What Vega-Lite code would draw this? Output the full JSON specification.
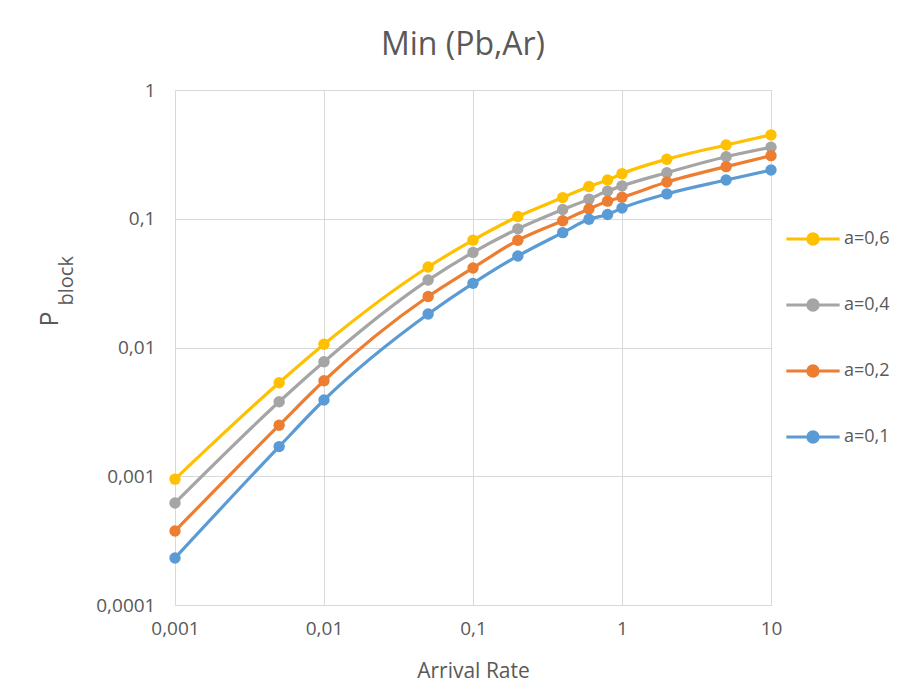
{
  "$schema": "https://vega.github.io/schema/vega-lite/v6.json",
  "width": 596,
  "height": 515,
  "autosize": {"type": "none"},
  "padding": {"left": 175, "top": 90, "right": 146, "bottom": 94},
  "background": "white",
  "title": {"text": "Min (Pb,Ar)", "fontSize": 32, "font": "Open Sans", "fontWeight": "normal", "color": "#595959", "anchor": "middle", "dx": -10, "offset": 19},
  "config": {
    "view": {"stroke": "#d9d9d9"},
    "axis": {"gridColor": "#d9d9d9", "gridWidth": 1, "domain": false, "ticks": false, "labelFont": "Open Sans", "labelFontSize": 19, "labelColor": "#595959", "titleFont": "Open Sans", "titleColor": "#595959", "titleFontWeight": "normal"}
  },
  "data": {"values": [
    {"rate": 0.001, "p": 0.00095, "series": "a=0,6"},
    {"rate": 0.005, "p": 0.00533, "series": "a=0,6"},
    {"rate": 0.01, "p": 0.0106, "series": "a=0,6"},
    {"rate": 0.05, "p": 0.0422, "series": "a=0,6"},
    {"rate": 0.1, "p": 0.0682, "series": "a=0,6"},
    {"rate": 0.2, "p": 0.104, "series": "a=0,6"},
    {"rate": 0.4, "p": 0.146, "series": "a=0,6"},
    {"rate": 0.6, "p": 0.178, "series": "a=0,6"},
    {"rate": 0.8, "p": 0.2, "series": "a=0,6"},
    {"rate": 1, "p": 0.224, "series": "a=0,6"},
    {"rate": 2, "p": 0.29, "series": "a=0,6"},
    {"rate": 5, "p": 0.374, "series": "a=0,6"},
    {"rate": 10, "p": 0.448, "series": "a=0,6"},
    {"rate": 0.001, "p": 0.00062, "series": "a=0,4"},
    {"rate": 0.005, "p": 0.00379, "series": "a=0,4"},
    {"rate": 0.01, "p": 0.00776, "series": "a=0,4"},
    {"rate": 0.05, "p": 0.0334, "series": "a=0,4"},
    {"rate": 0.1, "p": 0.0548, "series": "a=0,4"},
    {"rate": 0.2, "p": 0.0835, "series": "a=0,4"},
    {"rate": 0.4, "p": 0.118, "series": "a=0,4"},
    {"rate": 0.6, "p": 0.142, "series": "a=0,4"},
    {"rate": 0.8, "p": 0.164, "series": "a=0,4"},
    {"rate": 1, "p": 0.18, "series": "a=0,4"},
    {"rate": 2, "p": 0.228, "series": "a=0,4"},
    {"rate": 5, "p": 0.303, "series": "a=0,4"},
    {"rate": 10, "p": 0.359, "series": "a=0,4"},
    {"rate": 0.001, "p": 0.000376, "series": "a=0,2"},
    {"rate": 0.005, "p": 0.00249, "series": "a=0,2"},
    {"rate": 0.01, "p": 0.00552, "series": "a=0,2"},
    {"rate": 0.05, "p": 0.0249, "series": "a=0,2"},
    {"rate": 0.1, "p": 0.0415, "series": "a=0,2"},
    {"rate": 0.2, "p": 0.068, "series": "a=0,2"},
    {"rate": 0.4, "p": 0.0966, "series": "a=0,2"},
    {"rate": 0.6, "p": 0.119, "series": "a=0,2"},
    {"rate": 0.8, "p": 0.137, "series": "a=0,2"},
    {"rate": 1, "p": 0.147, "series": "a=0,2"},
    {"rate": 2, "p": 0.193, "series": "a=0,2"},
    {"rate": 5, "p": 0.254, "series": "a=0,2"},
    {"rate": 10, "p": 0.309, "series": "a=0,2"},
    {"rate": 0.001, "p": 0.000232, "series": "a=0,1"},
    {"rate": 0.005, "p": 0.0017, "series": "a=0,1"},
    {"rate": 0.01, "p": 0.00391, "series": "a=0,1"},
    {"rate": 0.05, "p": 0.0182, "series": "a=0,1"},
    {"rate": 0.1, "p": 0.0315, "series": "a=0,1"},
    {"rate": 0.2, "p": 0.0514, "series": "a=0,1"},
    {"rate": 0.4, "p": 0.078, "series": "a=0,1"},
    {"rate": 0.6, "p": 0.099, "series": "a=0,1"},
    {"rate": 0.8, "p": 0.108, "series": "a=0,1"},
    {"rate": 1, "p": 0.121, "series": "a=0,1"},
    {"rate": 2, "p": 0.156, "series": "a=0,1"},
    {"rate": 5, "p": 0.2, "series": "a=0,1"},
    {"rate": 10, "p": 0.239, "series": "a=0,1"}
  ]},
  "layer": [
    {
      "mark": {"type": "line", "interpolate": "monotone", "strokeWidth": 3.2, "point": {"filled": true, "size": 130, "opacity": 1}},
      "encoding": {
        "x": {"field": "rate", "type": "quantitative", "scale": {"type": "log", "domain": [0.001, 10], "nice": false},
          "axis": {"values": [0.001, 0.01, 0.1, 1, 10], "labelExpr": "replace(format(datum.value, '~g'), '.', ',')", "title": "Arrival Rate", "titleFontSize": 21, "labelPadding": 14, "titlePadding": 22, "labelFlush": false}},
        "y": {"field": "p", "type": "quantitative", "scale": {"type": "log", "domain": [0.0001, 1], "nice": false},
          "axis": {"values": [0.0001, 0.001, 0.01, 0.1, 1], "labelExpr": "replace(format(datum.value, '~g'), '.', ',')", "title": "P", "titleFontSize": 25, "titleX": -118, "titleY": 236, "titleAngle": -90, "titleAlign": "left", "titleBaseline": "alphabetic", "labelPadding": 20, "labelFlush": false}},
        "color": {"field": "series", "type": "nominal",
          "scale": {"domain": ["a=0,6", "a=0,4", "a=0,2", "a=0,1"], "range": ["#FFC000", "#A5A5A5", "#ED7D31", "#5B9BD5"]},
          "legend": {"orient": "none", "legendX": 629, "legendY": 140, "title": null, "symbolType": "M-4.1,0H4.1M0.8,0A0.8,0.8,0,1,1,-0.8,0A0.8,0.8,0,1,1,0.8,0", "symbolSize": 169, "symbolStrokeWidth": 3, "labelFontSize": 18, "labelColor": "#595959", "labelFont": "Open Sans", "labelOffset": 22, "rowPadding": 42,
            "encode": {"symbols": {"update": {"fill": {"scale": "color", "field": "value"}, "stroke": {"scale": "color", "field": "value"}, "opacity": {"value": 1}}}}}},
        "order": {"field": "rate", "type": "quantitative"}
      }
    },
    {
      "mark": {"type": "point", "opacity": 0},
      "encoding": {
        "x": {"field": "rate", "type": "quantitative"},
        "y": {"field": "p", "type": "quantitative",
          "axis": {"orient": "left", "title": "block", "labels": false, "grid": false, "ticks": false, "domain": false, "titleFontSize": 20, "titleX": -103, "titleY": 215, "titleAngle": -90, "titleAlign": "left", "titleBaseline": "alphabetic"}}
      }
    }
  ],
  "resolve": {"axis": {"y": "independent"}}
}
